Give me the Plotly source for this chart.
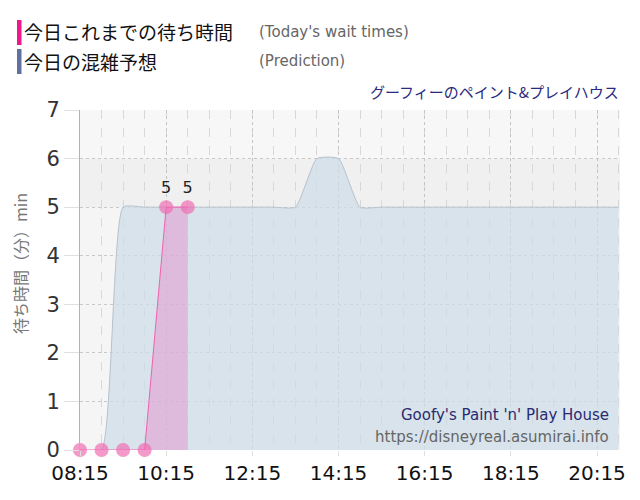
import plotly.graph_objects as go

# data
actual_times = ["08:15", "08:45", "09:15", "09:45", "10:15", "10:45"]
actual_vals = [0, 0, 0, 0, 5, 5]

pred_times = ["08:15", "08:45", "09:15", "09:45", "10:15", "10:45", "11:15", "11:45",
              "12:15", "12:45", "13:15", "13:45", "14:15", "14:45", "15:15", "15:45",
              "16:15", "16:45", "17:15", "17:45", "18:15", "18:45", "19:15", "19:45",
              "20:15", "20:45"]
pred_vals = [0, 0, 5, 5, 5, 5, 5, 5, 5, 5, 5, 6, 6, 5, 5, 5, 5, 5, 5, 5, 5, 5, 5, 5, 5, 5]

tick_labels = ["08:15", "10:15", "12:15", "14:15", "16:15", "18:15", "20:15"]

D = "2024-01-01 "
ax = [D + t for t in actual_times]
px = [D + t for t in pred_times]
tv = [D + t for t in tick_labels]

FONT = "DejaVu Sans, Verdana, Noto Sans CJK JP"
JP = "Noto Sans CJK JP, sans-serif"

fig = go.Figure()

fig.add_trace(go.Scatter(
    x=px, y=pred_vals, mode="lines", line=dict(color="#b8c2cc", width=1, shape="spline", smoothing=0.5),
    fill="tozeroy", fillcolor="rgba(205,220,232,0.72)", hoverinfo="skip", showlegend=False))

fig.add_trace(go.Scatter(
    x=ax, y=actual_vals, mode="lines+markers+text",
    line=dict(color="#f060b0", width=1),
    marker=dict(size=14, color="rgba(240,110,180,0.7)"),
    fill="tozeroy", fillcolor="rgba(230,130,200,0.42)",
    text=["" if v == 0 else str(v) for v in actual_vals], textposition="top center",
    textfont=dict(size=16, color="#222", family=FONT),
    cliponaxis=False, showlegend=False))

# background bands
fig.add_hrect(y0=5, y1=6, fillcolor="#f0f0f0", line_width=0, layer="below")
fig.add_hrect(y0=6, y1=7, fillcolor="#f7f7f7", line_width=0, layer="below")
fig.add_hrect(y0=0, y1=5, fillcolor="#f5f5f5", line_width=0, layer="below")

# page has an 8px body margin, so the figure is 8px smaller and margins shifted
fig.update_layout(
    width=632, height=492,
    margin=dict(l=72, r=20, t=102, b=50, autoexpand=False),
    paper_bgcolor="white", plot_bgcolor="#f5f5f5",
    font=dict(family=FONT),
    xaxis=dict(
        range=[D + "08:15", D + "20:47"], tickvals=tv, ticktext=tick_labels,
        tickfont=dict(size=20, color="#111"), showgrid=True, gridcolor="#c4c4c4", griddash="dot",
        ticks="outside", ticklen=5, tickcolor="#e0e0e0", zeroline=False, showline=False,
        minor=dict(dtick=1800000, tick0=D + "08:15", showgrid=True, gridcolor="#d8d8d8", griddash="dash"),
        layer="above traces"),
    yaxis=dict(
        range=[0, 7], dtick=1, tickfont=dict(size=21, color="#333"),
        showgrid=True, gridcolor="#c8c8c8", griddash="dot", ticks="outside", ticklen=15,
        tickcolor="#e0e0e0", zeroline=False, showline=True, linecolor="#b0b0c0", linewidth=1,
        layer="above traces"),
)

def py(y):
    return (450 - y) / 340

def pxx(x):
    return (x - 80) / 540

fig.add_shape(type="rect", xref="paper", yref="paper",
              x0=pxx(17), x1=pxx(21.5), y0=py(20), y1=py(45),
              fillcolor="#f0168c", line_width=0)
fig.add_shape(type="rect", xref="paper", yref="paper",
              x0=pxx(17), x1=pxx(21.5), y0=py(49), y1=py(74),
              fillcolor="#6070a0", line_width=0)

def ann(text, x, y, size, color, anchor="left", family=JP, angle=0):
    fig.add_annotation(text=text, xref="paper", yref="paper",
                       x=pxx(x), y=py(y), xanchor=anchor, yanchor="middle", textangle=angle,
                       showarrow=False, font=dict(size=size, color=color, family=family))

ann("今日これまでの待ち時間", 22, 32, 19, "#111")
ann("(Today's wait times)", 257, 32, 15, "#666", family=FONT)
ann("今日の混雑予想", 22, 61, 19, "#111")
ann("(Prediction)", 257, 61, 15, "#666", family=FONT)
ann("グーフィーのペイント&プレイハウス", 621, 92, 15, "#2a2a80", anchor="right")
ann("Goofy's Paint 'n' Play House", 611, 415, 15, "#2a2a70", anchor="right", family=FONT)
ann("https://disneyreal.asumirai.info", 611, 437, 15, "#666", anchor="right", family=FONT)
ann("待ち時間（分）min", 20, 264, 16, "#777", anchor="center", angle=-90)

fig.write_html("out.html")
